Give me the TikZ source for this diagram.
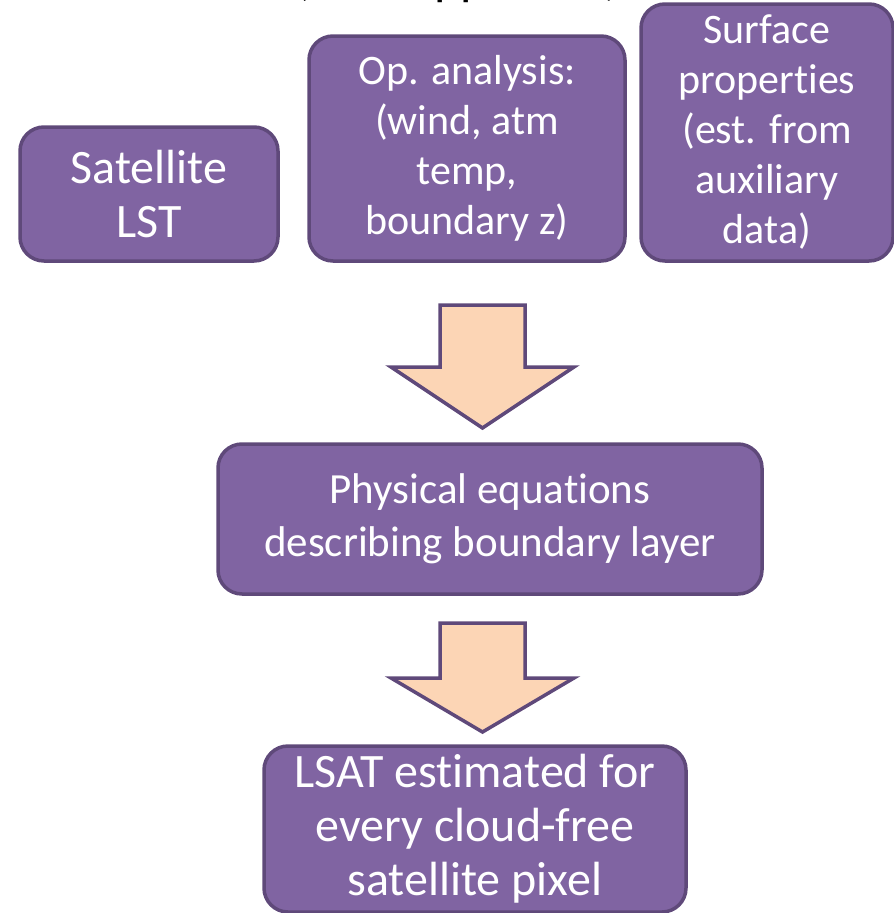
\documentclass[tikz,border=0pt]{standalone}
\usepackage{fontspec}
\setmainfont{Carlito}[RawFeature=-liga]
\usetikzlibrary{positioning}

\definecolor{boxfill}{HTML}{8064A2}
\definecolor{boxline}{HTML}{5F497A}
\definecolor{arrowfill}{HTML}{FCD5B5}

\tikzset{
  infobox/.style={draw=boxline, fill=boxfill, line width=3.5pt, rounded corners=24pt,
    text=white, align=center, inner sep=0pt, font=\fontsize{42}{50}\selectfont},
  bigtext/.style={font=\fontsize{48}{54}\selectfont},
  blockarrow/.style={draw=boxline, fill=arrowfill, line width=3.5pt}
}

\begin{document}
\begin{tikzpicture}[x=1pt,y=-1pt]
\useasboundingbox (0,0) rectangle (894,913);
\clip (0,0) rectangle (894,913);

% Heading, cut off at the top
\node[anchor=base, inner sep=0pt, font=\fontsize{51}{60}\selectfont] (heading) at (457,-6) {(new approach)};

% Input boxes
\node[infobox, bigtext, minimum width=258pt, minimum height=134pt] (sat) at (149,194) {Satellite\\LST};
\node[infobox, minimum width=316pt, minimum height=225pt] (opan) at (467,148.5) {Op. analysis:\\(wind, atm\\temp,\\boundary z)};
\node[infobox, minimum width=252pt, minimum height=257pt] (surf) at (767,132.5) {Surface\\properties\\(est. from\\auxiliary\\data)};

% Model and result
\node[infobox, font=\fontsize{43}{53}\selectfont, minimum width=544pt, minimum height=150pt] (phys) at (490,519) {Physical equations\\describing boundary layer};
\node[infobox, bigtext, minimum width=422pt, minimum height=166pt] (lsat) at (475,829) {LSAT estimated for\\every cloud-free\\satellite pixel};

% Block arrows
\foreach \top/\neck/\tip in {305/367/428, 623/678/732} {
  \draw[blockarrow] (440,\top) -- (525,\top) -- (525,\neck) -- (574,\neck)
    -- (482.5,\tip) -- (391,\neck) -- (440,\neck) -- cycle;
}
\end{tikzpicture}
\end{document}
